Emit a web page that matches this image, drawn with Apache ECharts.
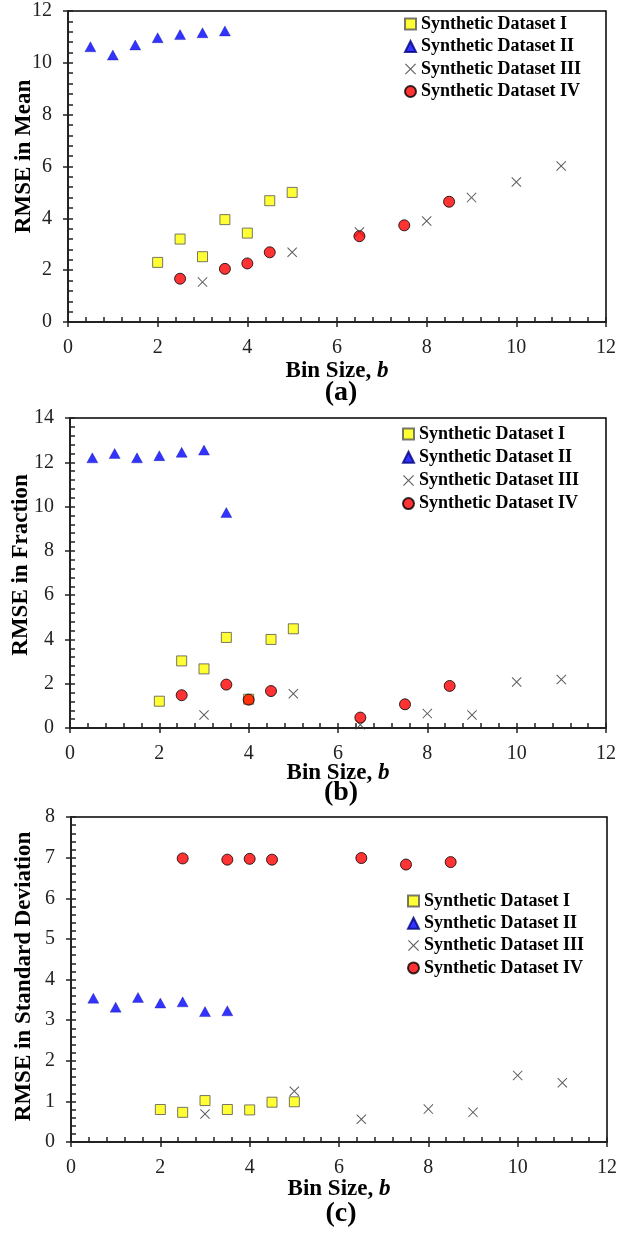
<!DOCTYPE html>
<html><head><meta charset="utf-8">
<script src="https://cdn.jsdelivr.net/npm/echarts@6/dist/echarts.min.js"></script>
<style>html,body{margin:0;padding:0;background:#fff}#c{width:621px;height:1234px}</style>
</head><body><div id="c"></div>
<script>
// Bin sizes for each dataset
const binI = [2, 2.5, 3, 3.5, 4, 4.5, 5];
const binII = [0.5, 1, 1.5, 2, 2.5, 3, 3.5];
const binIII = [3, 5, 6.5, 8, 9, 10, 11];
const binIV = [2.5, 3.5, 4, 4.5, 6.5, 7.5, 8.5];
const seriesNames = ['Synthetic Dataset I', 'Synthetic Dataset II', 'Synthetic Dataset III', 'Synthetic Dataset IV'];
// (a) RMSE in Mean
const meanI = [2.30, 3.20, 2.52, 3.95, 3.43, 4.68, 5.00];
const meanII = [10.62, 10.30, 10.69, 10.97, 11.09, 11.16, 11.23];
const meanIII = [1.54, 2.69, 3.47, 3.90, 4.80, 5.40, 6.02];
const meanIV = [1.67, 2.05, 2.26, 2.69, 3.31, 3.73, 4.64];
// (b) RMSE in Fraction
const fracI = [1.21, 3.03, 2.67, 4.09, 1.30, 4.00, 4.48];
const fracII = [12.20, 12.40, 12.20, 12.30, 12.45, 12.55, 9.73];
const fracIII = [0.59, 1.55, 0.15, 0.65, 0.59, 2.08, 2.19];
const fracIV = [1.48, 1.96, 1.28, 1.67, 0.47, 1.07, 1.90];
// (c) RMSE in Standard Deviation
const sdI = [0.80, 0.73, 1.02, 0.80, 0.79, 0.98, 0.99];
const sdII = [3.54, 3.32, 3.56, 3.42, 3.45, 3.21, 3.23];
const sdIII = [0.69, 1.25, 0.56, 0.81, 0.73, 1.64, 1.46];
const sdIV = [6.98, 6.95, 6.97, 6.95, 6.99, 6.83, 6.89];
// axes
const xTicks = {min: 0, max: 12, interval: 2, minor: 0.4};
const yAxesCfg = [
  {name: 'RMSE in Mean', min: 0, max: 12, interval: 2, minor: 0.4},
  {name: 'RMSE in Fraction', min: 0, max: 14, interval: 2, minor: 0.4},
  {name: 'RMSE in Standard Deviation', min: 0, max: 8, interval: 1, minor: 0.2}
];
const panelLabels = ['(a)', '(b)', '(c)'];

const SERIF = '"Liberation Serif","Times New Roman",serif';
const grids = [
  {left: 68, top: 11, width: 538, height: 311},
  {left: 70, top: 418, width: 536, height: 310},
  {left: 71, top: 817, width: 536, height: 325}
];
const nameGapsY = [32, 37, 35];
const namePadY = [[0,0,0,20],[0,0,0,16],[0,0,0,6]];
const nameGapsX = [38, 34, 36];
const labelPos = [[341, 393], [341, 793], [341, 1214]];
const legendPos = [{left: 399, top: 10, gap: 4.5}, {left: 397, top: 420, gap: 5.2}, {left: 402, top: 887, gap: 4.3}];

const crossPath = 'path://M0,0.7L0.7,0L5,4.3L9.3,0L10,0.7L5.7,5L10,9.3L9.3,10L5,5.7L0.7,10L0,9.3L4.3,5Z';
const styles = [
  {symbol: 'rect', symbolSize: 10, itemStyle: {color: '#FFFF00', borderColor: '#555', borderWidth: 1}},
  {symbol: 'triangle', symbolSize: [11, 10], itemStyle: {color: '#0000FF', borderColor: '#000080', borderWidth: 0.4}},
  {symbol: crossPath, symbolSize: 10, itemStyle: {color: '#333'}},
  {symbol: 'circle', symbolSize: 11, itemStyle: {color: '#FF0000', borderColor: '#000', borderWidth: 1}}
];
const bins = [binI, binII, binIII, binIV];
const panelData = [[meanI, meanII, meanIII, meanIV], [fracI, fracII, fracIII, fracIV], [sdI, sdII, sdIII, sdIV]];

const tickStyle = {color: '#222', width: 1.5};
const xAxis = [], yAxis = [], series = [], legend = [], graphic = [];
grids.forEach((g, p) => {
  g.show = true; g.borderColor = '#000'; g.borderWidth = 1.5; g.backgroundColor = 'transparent';
  g.containLabel = false; g.outerBoundsMode = 'none';
  const base = {gridIndex: p, type: 'value', position: 'bottom', offset: 0, min: xTicks.min, max: xTicks.max, splitLine: {show: false}};
  // main x axis: line, labels, name, outside major ticks
  xAxis.push(Object.assign({}, base, {
    interval: xTicks.interval,
    name: '{n|Bin Size, }{i|b}', nameLocation: 'middle', nameGap: nameGapsX[p], nameMoveOverlap: false,
    nameTextStyle: {rich: {
      n: {fontFamily: SERIF, fontWeight: 'bold', fontSize: 23, color: '#000'},
      i: {fontFamily: SERIF, fontWeight: 'bold', fontStyle: 'italic', fontSize: 23, color: '#000'}
    }},
    axisLine: {lineStyle: {color: '#222', width: 2}},
    axisTick: {inside: false, length: 5, lineStyle: tickStyle},
    axisLabel: {fontFamily: SERIF, fontSize: 20, color: '#222', margin: 16}
  }));
  // fine x axis: inside ticks every minor step
  xAxis.push(Object.assign({}, base, {
    interval: xTicks.minor,
    axisLine: {show: false}, axisLabel: {show: false},
    axisTick: {inside: true, length: 5, lineStyle: tickStyle}
  }));
  const yc = yAxesCfg[p];
  const ybase = {gridIndex: p, type: 'value', position: 'left', offset: 0, min: yc.min, max: yc.max, splitLine: {show: false}};
  yAxis.push(Object.assign({}, ybase, {
    interval: yc.interval,
    name: yc.name, nameLocation: 'middle', nameGap: nameGapsY[p], nameMoveOverlap: false,
    nameTextStyle: {fontFamily: SERIF, fontWeight: 'bold', fontSize: 23, color: '#000', padding: namePadY[p]},
    axisLine: {lineStyle: {color: '#222', width: 2}},
    axisTick: {inside: false, length: 5, lineStyle: tickStyle},
    axisLabel: {fontFamily: SERIF, fontSize: 20, color: '#222', margin: 16}
  }));
  yAxis.push(Object.assign({}, ybase, {
    interval: yc.minor,
    axisLine: {show: false}, axisLabel: {show: false},
    axisTick: {inside: true, length: 5, lineStyle: tickStyle}
  }));
  seriesNames.forEach((nm, k) => {
    series.push(Object.assign({
      type: 'scatter', name: nm, xAxisIndex: p * 2, yAxisIndex: p * 2,
      data: bins[k].map((x, i) => [x, panelData[p][k][i]]),
      z: 2 + k
    }, JSON.parse(JSON.stringify(styles[k]))));
  });
  const lp = legendPos[p];
  legend.push({
    orient: 'vertical', left: lp.left, top: lp.top, itemWidth: 11, itemHeight: 11, itemGap: lp.gap,
    data: seriesNames, selectedMode: false,
    textStyle: {fontFamily: SERIF, fontWeight: 'bold', fontSize: 18, color: '#000', lineHeight: 18}
  });
  graphic.push({
    type: 'text', x: labelPos[p][0], y: labelPos[p][1],
    style: {text: panelLabels[p], font: 'bold 28px ' + SERIF, fill: '#000', align: 'center', verticalAlign: 'middle'}
  });
});

const chart = echarts.init(document.getElementById('c'), null, {renderer: 'canvas'});
chart.setOption({
  animation: false, backgroundColor: '#fff',
  grid: grids, xAxis: xAxis, yAxis: yAxis, series: series, legend: legend, graphic: graphic
});
</script></body></html>
